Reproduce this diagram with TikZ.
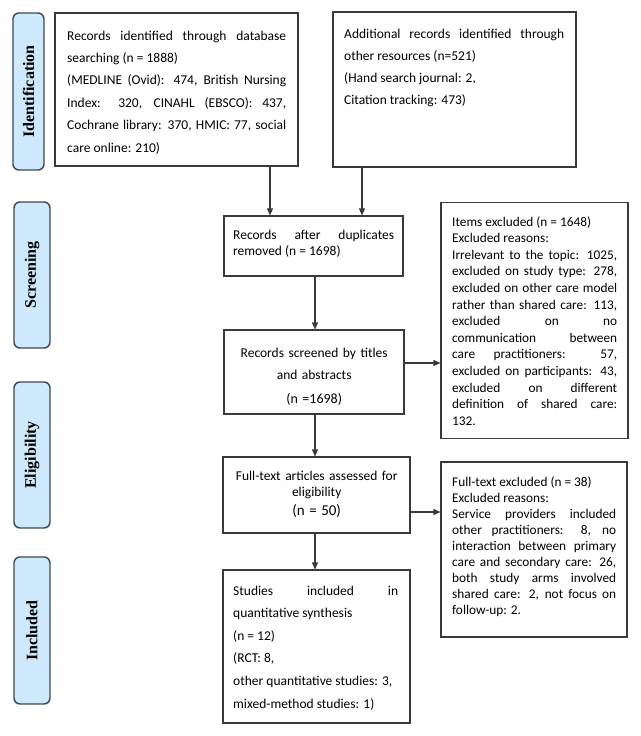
\documentclass[tikz,border=0pt]{standalone}
\usepackage{fontspec}
\setmainfont{Carlito}
\newfontfamily\labfont{Liberation Serif}
\usetikzlibrary{arrows.meta}
\definecolor{boxc}{HTML}{3A3A3A}
\definecolor{stagec}{HTML}{3E4852}
\definecolor{stagefill}{HTML}{CDE9FB}
\begin{document}
\begin{tikzpicture}[x=1pt,y=-1pt,
  box/.style={draw=boxc, line width=1.1pt, inner sep=0pt},
  stage/.style={draw=stagec, fill=stagefill, line width=1.4pt, rounded corners=6pt, inner sep=0pt,
    rotate=90, font=\labfont\bfseries\fontsize{16}{18}\selectfont},
  txt/.style={inner sep=0pt, anchor=base west, align=justify,
    execute at begin node={\hyphenpenalty=10000 \exhyphenpenalty=10000 \tolerance=10000 \hbadness=10000}},
  ctxt/.style={inner sep=0pt, anchor=base west, align=center,
    execute at begin node={\hyphenpenalty=10000 \tolerance=10000 \hbadness=10000}},
  arr/.style={draw=boxc, line width=1.1pt, -{Triangle[length=7pt,width=6pt]}}
]
\useasboundingbox (0,0) rectangle (640,736);
\fill[white] (0,0) rectangle (640,736);

% stage labels
\node[stage, minimum width=157, minimum height=31] (S1) at (28.5,91.5) {Identification};
\node[stage, minimum width=146, minimum height=36] (S2) at (32,275) {Screening};
\node[stage, minimum width=146, minimum height=36] (S3) at (32,455) {Eligibility};
\node[stage, minimum width=147, minimum height=36] (S4) at (32,630.5) {Included};

% boxes
\node[box, minimum width=243, minimum height=153] (A) at (176.5,89.5) {};
\node[box, minimum width=243, minimum height=155] (B) at (454.5,89.5) {};
\node[box, minimum width=179, minimum height=60] (C) at (313.5,246) {};
\node[box, minimum width=180, minimum height=84] (D) at (314,372) {};
\node[box, minimum width=187, minimum height=236] (E) at (534.5,320.5) {};
\node[box, minimum width=186, minimum height=175] (G) at (534,549.5) {};
\node[box, minimum width=187, minimum height=76] (F) at (316.5,495) {};
\node[box, minimum width=187, minimum height=153] (H) at (316.5,646.5) {};

% texts
\node[txt, text width=219, font=\fontsize{13.5}{22.4}\selectfont] (At) at (67,40)
 {Records identified through database\linebreak searching (n = 1888)\newline
  (MEDLINE (Ovid): 474, British Nursing\linebreak Index: 320, CINAHL (EBSCO): 437,\linebreak
  Cochrane library: 370, HMIC: 77, social\linebreak care online: 210)};
\node[txt, text width=220, font=\fontsize{13.5}{22}\selectfont] (Bt) at (344,38)
 {Additional records identified through\linebreak other resources (n=521)\newline
  (Hand search journal: 2,\newline Citation tracking: 473)};
\node[txt, text width=161, font=\fontsize{13.5}{16}\selectfont] (Ct) at (233,239)
 {Records after duplicates\linebreak removed (n = 1698)};
\node[ctxt, text width=170, font=\fontsize{13.5}{22}\selectfont] (Dt) at (229,357)
 {Records screened by titles\\ and abstracts\\[2pt] {\fontsize{14}{16}\selectfont (n =1698)}};
\node[txt, text width=165, font=\fontsize{13.3}{16.6}\selectfont] (Et) at (452,226)
 {Items excluded (n = 1648)\newline Excluded reasons:\newline
  Irrelevant to the topic: 1025,\linebreak excluded on study type: 278,\linebreak
  excluded on other care model\linebreak rather than shared care: 113,\linebreak
  excluded on no\linebreak communication between\linebreak
  care practitioners: 57,\linebreak excluded on participants: 43,\linebreak
  excluded on different\linebreak definition of shared care:\linebreak 132.};
\node[ctxt, text width=180, font=\fontsize{13.5}{16}\selectfont] (Ft) at (226.5,480)
 {Full-text articles assessed for\\ eligibility\\[3pt] {\fontsize{15}{18}\selectfont (n = 50)}};
\node[txt, text width=164, font=\fontsize{13.3}{16}\selectfont] (Gt) at (452,486)
 {Full-text excluded (n = 38)\newline Excluded reasons:\newline
  Service providers included\linebreak other practitioners: 8, no\linebreak
  interaction between primary\linebreak care and secondary care: 26,\linebreak
  both study arms involved\linebreak shared care: 2, not focus on\linebreak follow-up: 2.};
\node[txt, text width=165, font=\fontsize{13.5}{22.6}\selectfont] (Ht) at (233,595)
 {Studies included in\linebreak quantitative synthesis\newline (n = 12)\newline
  (RCT: 8,\newline other quantitative studies: 3,\newline mixed-method studies: 1)};

% connectors
\coordinate (xa) at (270,0);
\coordinate (xb) at (362,0);
\coordinate (xm) at (315,0);
\coordinate (yd) at (0,363);
\coordinate (yf) at (0,512);
\draw[arr] (A.south -| xa) -- (C.north -| xa);
\draw[arr] (B.south -| xb) -- (C.north -| xb);
\draw[arr] (C.south -| xm) -- (D.north -| xm);
\draw[arr] (D.south -| xm) -- (F.north -| xm);
\draw[arr] (F.south -| xm) -- (H.north -| xm);
\draw[arr] (D.east |- yd) -- (E.west |- yd);
\draw[arr] (F.east |- yf) -- (G.west |- yf);
\end{tikzpicture}
\end{document}
